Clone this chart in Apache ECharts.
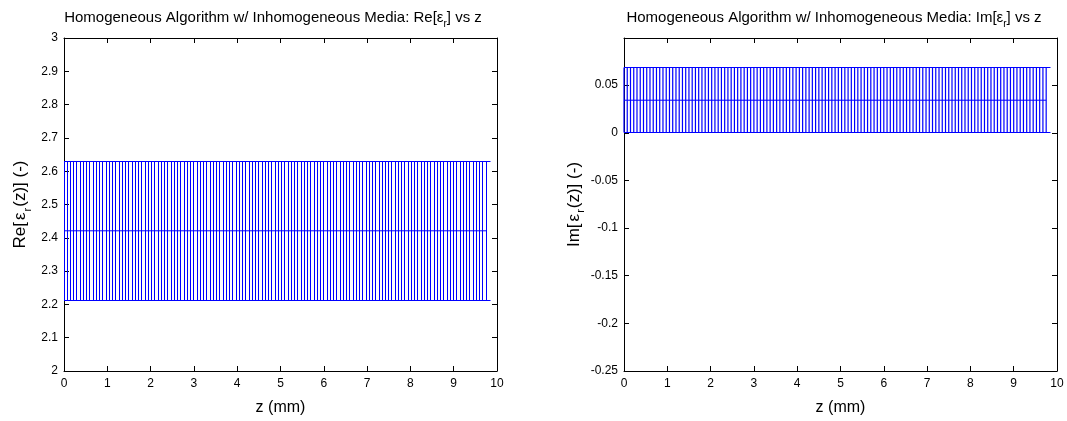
<!DOCTYPE html>
<html><head><meta charset="utf-8">
<script src="https://cdn.jsdelivr.net/npm/echarts@6/dist/echarts.min.js"></script>
<style>html,body{margin:0;padding:0;background:#fff}#c{width:1067px;height:421px}</style>
</head><body><div id="c"></div>
<script>
// z positions (mm)
const z = [
0,0.075,0.15,0.225,0.3,0.375,0.45,0.525,0.6,0.675,
0.75,0.825,0.9,0.975,1.05,1.125,1.2,1.275,1.35,1.425,
1.5,1.575,1.65,1.725,1.8,1.875,1.95,2.025,2.1,2.175,
2.25,2.325,2.4,2.475,2.55,2.625,2.7,2.775,2.85,2.925,
3,3.075,3.15,3.225,3.3,3.375,3.45,3.525,3.6,3.675,
3.75,3.825,3.9,3.975,4.05,4.125,4.2,4.275,4.35,4.425,
4.5,4.575,4.65,4.725,4.8,4.875,4.95,5.025,5.1,5.175,
5.25,5.325,5.4,5.475,5.55,5.625,5.7,5.775,5.85,5.925,
6,6.075,6.15,6.225,6.3,6.375,6.45,6.525,6.6,6.675,
6.75,6.825,6.9,6.975,7.05,7.125,7.2,7.275,7.35,7.425,
7.5,7.575,7.65,7.725,7.8,7.875,7.95,8.025,8.1,8.175,
8.25,8.325,8.4,8.475,8.55,8.625,8.7,8.775,8.85,8.925,
9,9.075,9.15,9.225,9.3,9.375,9.45,9.525,9.6,9.675,
9.75];
// Re[eps_r] mean and error half-width
const reMean = [
2.421,2.421,2.421,2.421,2.421,2.421,2.421,2.421,2.421,2.421,
2.421,2.421,2.421,2.421,2.421,2.421,2.421,2.421,2.421,2.421,
2.421,2.421,2.421,2.421,2.421,2.421,2.421,2.421,2.421,2.421,
2.421,2.421,2.421,2.421,2.421,2.421,2.421,2.421,2.421,2.421,
2.421,2.421,2.421,2.421,2.421,2.421,2.421,2.421,2.421,2.421,
2.421,2.421,2.421,2.421,2.421,2.421,2.421,2.421,2.421,2.421,
2.421,2.421,2.421,2.421,2.421,2.421,2.421,2.421,2.421,2.421,
2.421,2.421,2.421,2.421,2.421,2.421,2.421,2.421,2.421,2.421,
2.421,2.421,2.421,2.421,2.421,2.421,2.421,2.421,2.421,2.421,
2.421,2.421,2.421,2.421,2.421,2.421,2.421,2.421,2.421,2.421,
2.421,2.421,2.421,2.421,2.421,2.421,2.421,2.421,2.421,2.421,
2.421,2.421,2.421,2.421,2.421,2.421,2.421,2.421,2.421,2.421,
2.421,2.421,2.421,2.421,2.421,2.421,2.421,2.421,2.421,2.421,
2.421];
const reErr = [
0.209,0.209,0.209,0.209,0.209,0.209,0.209,0.209,0.209,0.209,
0.209,0.209,0.209,0.209,0.209,0.209,0.209,0.209,0.209,0.209,
0.209,0.209,0.209,0.209,0.209,0.209,0.209,0.209,0.209,0.209,
0.209,0.209,0.209,0.209,0.209,0.209,0.209,0.209,0.209,0.209,
0.209,0.209,0.209,0.209,0.209,0.209,0.209,0.209,0.209,0.209,
0.209,0.209,0.209,0.209,0.209,0.209,0.209,0.209,0.209,0.209,
0.209,0.209,0.209,0.209,0.209,0.209,0.209,0.209,0.209,0.209,
0.209,0.209,0.209,0.209,0.209,0.209,0.209,0.209,0.209,0.209,
0.209,0.209,0.209,0.209,0.209,0.209,0.209,0.209,0.209,0.209,
0.209,0.209,0.209,0.209,0.209,0.209,0.209,0.209,0.209,0.209,
0.209,0.209,0.209,0.209,0.209,0.209,0.209,0.209,0.209,0.209,
0.209,0.209,0.209,0.209,0.209,0.209,0.209,0.209,0.209,0.209,
0.209,0.209,0.209,0.209,0.209,0.209,0.209,0.209,0.209,0.209,
0.209];
// Im[eps_r] mean and error half-width
const imMean = [
0.0342,0.0342,0.0342,0.0342,0.0342,0.0342,0.0342,0.0342,0.0342,0.0342,
0.0342,0.0342,0.0342,0.0342,0.0342,0.0342,0.0342,0.0342,0.0342,0.0342,
0.0342,0.0342,0.0342,0.0342,0.0342,0.0342,0.0342,0.0342,0.0342,0.0342,
0.0342,0.0342,0.0342,0.0342,0.0342,0.0342,0.0342,0.0342,0.0342,0.0342,
0.0342,0.0342,0.0342,0.0342,0.0342,0.0342,0.0342,0.0342,0.0342,0.0342,
0.0342,0.0342,0.0342,0.0342,0.0342,0.0342,0.0342,0.0342,0.0342,0.0342,
0.0342,0.0342,0.0342,0.0342,0.0342,0.0342,0.0342,0.0342,0.0342,0.0342,
0.0342,0.0342,0.0342,0.0342,0.0342,0.0342,0.0342,0.0342,0.0342,0.0342,
0.0342,0.0342,0.0342,0.0342,0.0342,0.0342,0.0342,0.0342,0.0342,0.0342,
0.0342,0.0342,0.0342,0.0342,0.0342,0.0342,0.0342,0.0342,0.0342,0.0342,
0.0342,0.0342,0.0342,0.0342,0.0342,0.0342,0.0342,0.0342,0.0342,0.0342,
0.0342,0.0342,0.0342,0.0342,0.0342,0.0342,0.0342,0.0342,0.0342,0.0342,
0.0342,0.0342,0.0342,0.0342,0.0342,0.0342,0.0342,0.0342,0.0342,0.0342,
0.0342];
const imErr = [
0.0342,0.0342,0.0342,0.0342,0.0342,0.0342,0.0342,0.0342,0.0342,0.0342,
0.0342,0.0342,0.0342,0.0342,0.0342,0.0342,0.0342,0.0342,0.0342,0.0342,
0.0342,0.0342,0.0342,0.0342,0.0342,0.0342,0.0342,0.0342,0.0342,0.0342,
0.0342,0.0342,0.0342,0.0342,0.0342,0.0342,0.0342,0.0342,0.0342,0.0342,
0.0342,0.0342,0.0342,0.0342,0.0342,0.0342,0.0342,0.0342,0.0342,0.0342,
0.0342,0.0342,0.0342,0.0342,0.0342,0.0342,0.0342,0.0342,0.0342,0.0342,
0.0342,0.0342,0.0342,0.0342,0.0342,0.0342,0.0342,0.0342,0.0342,0.0342,
0.0342,0.0342,0.0342,0.0342,0.0342,0.0342,0.0342,0.0342,0.0342,0.0342,
0.0342,0.0342,0.0342,0.0342,0.0342,0.0342,0.0342,0.0342,0.0342,0.0342,
0.0342,0.0342,0.0342,0.0342,0.0342,0.0342,0.0342,0.0342,0.0342,0.0342,
0.0342,0.0342,0.0342,0.0342,0.0342,0.0342,0.0342,0.0342,0.0342,0.0342,
0.0342,0.0342,0.0342,0.0342,0.0342,0.0342,0.0342,0.0342,0.0342,0.0342,
0.0342,0.0342,0.0342,0.0342,0.0342,0.0342,0.0342,0.0342,0.0342,0.0342,
0.0342];

const FONT = '"Liberation Sans", Arial, sans-serif';
const BLUE = '#0000ff';
const CAP = 0.1; // cap half-width in mm

const chart = echarts.init(document.getElementById('c'), null, {renderer: 'canvas'});

function makeErrBars(snap, width) {
  return function (params, api) {
    const x = api.value(0), m = api.value(1), e = api.value(2);
    const cs = params.coordSys;
    const pt = api.coord([x, m + e]);
    const pb = api.coord([x, m - e]);
    const pl = api.coord([x - CAP, m]);
    const pr = api.coord([x + CAP, m]);
    const px = snap ? Math.floor(pt[0]) + 0.5 : pt[0];
    const yt = Math.floor(pt[1]) + 0.5;
    const yb = Math.floor(pb[1]) + 0.5;
    const xl = Math.max(pl[0], cs.x);
    const xr = Math.min(pr[0], cs.x + cs.width);
    const st = {stroke: BLUE, lineWidth: width, fill: null};
    const cst = {stroke: BLUE, lineWidth: 1, fill: null};
    return {type: 'group', silent: true, children: [
      {type: 'line', shape: {x1: px, y1: yt, x2: px, y2: yb}, style: st},
      {type: 'line', shape: {x1: xl, y1: yt, x2: xr, y2: yt}, style: cst},
      {type: 'line', shape: {x1: xl, y1: yb, x2: xr, y2: yb}, style: cst}
    ]};
  };
}

const axLine = {show: true, onZero: false, lineStyle: {color: '#000', width: 1}};
const tick = {show: true, inside: true, length: 5, lineStyle: {color: '#000'}};
const lbl = {color: '#000', fontFamily: FONT, fontSize: 12};
const subRich = {fontFamily: FONT, fontSize: 11, color: '#000', padding: [10, 1, 0, 0], verticalAlign: 'top', lineHeight: 11};
const epsRich = {fontFamily: FONT, fontSize: 17, color: '#000', padding: [0, 1, 0, 2]};
const nameStyle = {color: '#000', fontFamily: FONT, fontSize: 17, rich: {sub: subRich, eps: epsRich}};
const titleRich = {sub: {fontFamily: FONT, fontSize: 10, color: '#000', padding: [9, 0, 0, 0], verticalAlign: 'top', lineHeight: 10}};

function xAxes(gi) {
  return [
    {type: 'value', gridIndex: gi, min: 0, max: 10, interval: 1, position: 'bottom',
     axisLine: axLine, axisTick: tick, splitLine: {show: false},
     axisLabel: Object.assign({margin: 7}, lbl),
     name: 'z (mm)', nameLocation: 'middle', nameGap: 29, nameTextStyle: {color: '#000', fontFamily: FONT, fontSize: 16}},
    {type: 'value', gridIndex: gi, min: 0, max: 10, interval: 1, position: 'top',
     axisLine: axLine, axisTick: tick, splitLine: {show: false}, axisLabel: {show: false}}
  ];
}

const option = {
  animation: false,
  backgroundColor: '#fff',
  title: [
    {text: 'Homogeneous Algorithm w/ Inhomogeneous Media: Re[ε{sub|r}] vs z', left: 268, top: 5, textAlign: 'center',
     textStyle: {color: '#000', fontFamily: FONT, fontSize: 15, fontWeight: 'normal', rich: titleRich}},
    {text: 'Homogeneous Algorithm w/ Inhomogeneous Media: Im[ε{sub|r}] vs z', left: 829, top: 5, textAlign: 'center',
     textStyle: {color: '#000', fontFamily: FONT, fontSize: 15, fontWeight: 'normal', rich: titleRich}}
  ],
  grid: [
    {left: 64, top: 38, width: 433, height: 339},
    {left: 624, top: 38, width: 433, height: 339}
  ],
  xAxis: xAxes(0).concat(xAxes(1)),
  yAxis: [
    {type: 'value', gridIndex: 0, min: 2, max: 3, interval: 0.1, position: 'left',
     axisLine: axLine, axisTick: tick, splitLine: {show: false},
     axisLabel: Object.assign({margin: 6}, lbl),
     name: 'Re[{eps|ε}{sub|r}(z)] (-)', nameLocation: 'middle', nameGap: 35, nameTextStyle: nameStyle},
    {type: 'value', gridIndex: 0, min: 2, max: 3, interval: 0.1, position: 'right',
     axisLine: axLine, axisTick: tick, splitLine: {show: false}, axisLabel: {show: false}},
    {type: 'value', gridIndex: 1, min: -0.25, max: 0.0995, interval: 0.05, position: 'left',
     axisLine: axLine, axisTick: tick, splitLine: {show: false},
     axisLabel: Object.assign({margin: 6, showMaxLabel: false}, lbl),
     name: 'Im[{eps|ε}{sub|r}(z)] (-)', nameLocation: 'middle', nameGap: 36, nameTextStyle: nameStyle},
    {type: 'value', gridIndex: 1, min: -0.25, max: 0.0995, interval: 0.05, position: 'right',
     axisLine: axLine, axisTick: tick, splitLine: {show: false}, axisLabel: {show: false}}
  ],
  series: [
    {type: 'custom', xAxisIndex: 0, yAxisIndex: 0, renderItem: makeErrBars(true, 1),
     data: z.map((v, i) => [v, reMean[i], reErr[i]])},
    {type: 'line', xAxisIndex: 0, yAxisIndex: 0, showSymbol: false, symbol: 'none',
     lineStyle: {color: BLUE, width: 1}, data: z.map((v, i) => [v, reMean[i]]), z: 3},
    {type: 'custom', xAxisIndex: 2, yAxisIndex: 2, renderItem: makeErrBars(false, 1.2),
     data: z.map((v, i) => [v, imMean[i], imErr[i]])},
    {type: 'line', xAxisIndex: 2, yAxisIndex: 2, showSymbol: false, symbol: 'none',
     lineStyle: {color: BLUE, width: 1}, data: z.map((v, i) => [v, imMean[i]]), z: 3}
  ]
};
chart.setOption(option);
</script></body></html>
